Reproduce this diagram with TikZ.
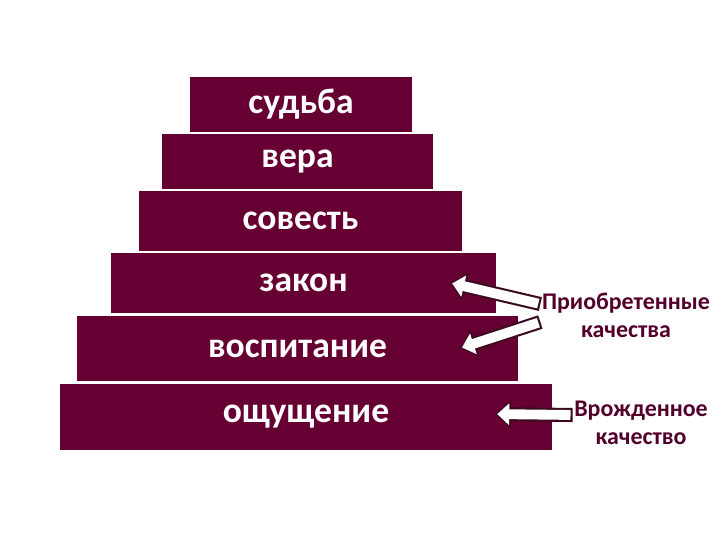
\documentclass[tikz,border=0pt]{standalone}
\usepackage{fontspec}
\setmainfont{Carlito}
\usetikzlibrary{arrows.meta}
\definecolor{tiercol}{RGB}{102,0,51}
\definecolor{edgecol}{RGB}{60,10,30}
\begin{document}
\begin{tikzpicture}[x=0.025cm, y=-0.025cm,
    tier/.style={fill=tiercol, text=white, inner sep=0pt, font=\bfseries\fontsize{25.3}{28}\selectfont},
    note/.style={text=tiercol!80!black, align=center, inner sep=1pt, font=\bfseries\fontsize{17}{20}\selectfont},
    hollowarrow/.style={line width=10pt, draw=edgecol, -{Triangle[length=11pt,width=19pt]},
        postaction={draw=white, line width=7pt, -{Triangle[length=8.5pt,width=15pt]}, shorten >=1.3pt, shorten <=1.5pt}}]
    \useasboundingbox (0,0) rectangle (720,540);
    \node[tier, minimum width=5.55cm, minimum height=1.375cm] (sudba) at (301,104.5) {судьба};
    \node[tier, minimum width=6.775cm, minimum height=1.375cm] (vera) at (297.5,161.5) {вера};
    \node[tier, minimum width=8.075cm, minimum height=1.5cm] (sovest) at (300.5,221) {совесть};
    \node[tier, minimum width=9.625cm, minimum height=1.5cm] (zakon) at (303.5,283) {закон};
    \node[tier, minimum width=11.025cm, minimum height=1.625cm] (vospit) at (297.5,348.5) {воспитание};
    \node[tier, minimum width=12.3cm, minimum height=1.65cm] (oshch) at (306,417) {ощущение};
    \node[note] (acquired) at (626,315) {Приобретенные\\качества};
    \node[note] (innate) at (641,423) {Врожденное\\качество};
    \draw[hollowarrow] ([yshift=7.8pt]acquired.west) -- ([xshift=-32.7pt]zakon.east);
    \draw[hollowarrow] ([yshift=-5pt]acquired.west) -- ([xshift=-41.3pt,yshift=0.3pt]vospit.east);
    \draw[hollowarrow] ([yshift=5.7pt]innate.west) -- ([xshift=-40.5pt,yshift=2.1pt]oshch.east);
\end{tikzpicture}
\end{document}
